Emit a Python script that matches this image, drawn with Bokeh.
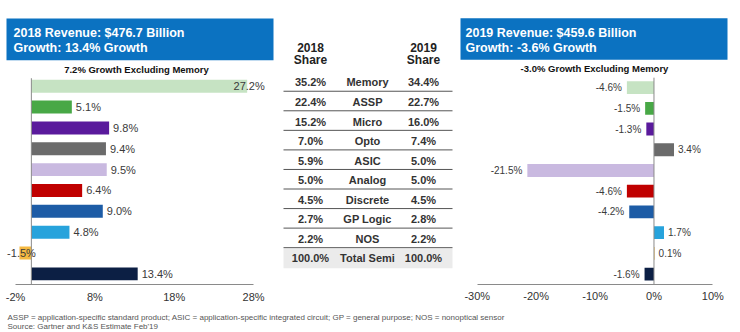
from bokeh.plotting import figure
from bokeh.models import Range1d, FixedTicker, PrintfTickFormatter, ColumnDataSource, LinearAxis
from bokeh.layouts import row, column
from bokeh.embed import file_html
from bokeh.resources import INLINE
from bokeh.core.properties import value

# ---------------- data ----------------
categories = ["Memory", "ASSP", "Micro", "Opto", "ASIC", "Analog", "Discrete", "GP Logic", "NOS", "Total Semi"]
growth_2018 = [27.2, 5.1, 9.8, 9.4, 9.5, 6.4, 9.0, 4.8, -1.5, 13.4]
growth_2019 = [-4.6, -1.5, -1.3, 3.4, -21.5, -4.6, -4.2, 1.7, 0.1, -1.6]
share_2018 = [35.2, 22.4, 15.2, 7.0, 5.9, 5.0, 4.5, 2.7, 2.2, 100.0]
share_2019 = [34.4, 22.7, 16.0, 7.4, 5.0, 5.0, 4.5, 2.8, 2.2, 100.0]
left_ticks = [-2, 8, 18, 28]
right_ticks = [-30, -20, -10, 0, 10]
left_header = ["2018 Revenue: $476.7 Billion", "Growth: 13.4% Growth"]
right_header = ["2019 Revenue: $459.6 Billion", "Growth: -3.6% Growth"]
left_subtitle = "7.2% Growth Excluding Memory"
right_subtitle = "-3.0% Growth Excluding Memory"
footnotes = ["ASSP = application-specific standard product; ASIC = application-specific integrated circuit; GP = general purpose; NOS = nonoptical sensor",
             "Source: Gartner and K&S Estimate Feb'19"]

# ---------------- style ----------------
colors = ["#c6e3c3", "#48a846", "#5a1a9c", "#6b6b6b", "#c9b9e0", "#c00000",
          "#1d5ca6", "#27a3dc", "#f5b942", "#0c1f44"]
BLUE = "#0b72c1"
FONT = "Liberation Sans"
AXIS_COLOR = "#8a8a8a"
rows = list(range(len(categories)))


def base_fig(w, h, xr, yr, px_w, px_h):
    p = figure(width=w, height=h, x_range=xr, y_range=yr, output_backend="svg",
               toolbar_location=None, min_border=0, outline_line_color=None,
               background_fill_color="white", border_fill_color="white",
               x_axis_location=None, y_axis_location=None)
    p.xgrid.visible = False
    p.ygrid.visible = False
    p.extra_x_ranges = {"px": Range1d(0, px_w)}
    p.extra_y_ranges = {"px": Range1d(px_h, 0)}
    return p


def add_axis(p, ticks, size, standoff):
    ax = LinearAxis(ticker=FixedTicker(ticks=ticks), formatter=PrintfTickFormatter(format="%d%%"))
    ax.major_tick_out = 0
    ax.major_tick_in = 0
    ax.minor_tick_out = 0
    ax.minor_tick_in = 0
    ax.axis_line_color = AXIS_COLOR
    ax.bounds = (min(ticks), max(ticks))
    ax.major_label_text_font = FONT
    ax.major_label_text_font_size = size
    ax.major_label_text_color = "#333333"
    ax.major_label_standoff = standoff
    p.add_layout(ax, "below")


def header(p, x0, x1, tx, lines, sub, subx):
    p.quad(left=[x0], right=[x1], top=[18], bottom=[60], fill_color=BLUE, line_color=None,
           x_range_name="px", y_range_name="px")
    p.text(x=[tx, tx], y=[33, 48], text=lines, text_font=value(FONT), text_font_style="bold",
           text_font_size="12.5px", text_color="white", text_baseline="middle",
           x_range_name="px", y_range_name="px")
    p.text(x=[subx], y=[69], text=[sub], text_font=value(FONT), text_font_style="bold",
           text_font_size="9.5px", text_color="#111111", text_baseline="middle", text_align="center",
           x_range_name="px", y_range_name="px")


def pct(v):
    return f"{v:.1f}%"


# ---------------- left chart ----------------
LH = 285
left = base_fig(280, 305, Range1d(-3.891, 31.40), Range1d((LH - 86) / 20.93, -86 / 20.93), 280, LH)
left.min_border_bottom = 20
header(left, 6, 273, 13, left_header, left_subtitle, 136)
src_l = ColumnDataSource(dict(row=rows, val=growth_2018, color=colors))
left.hbar(y="row", left=0, right="val", height=0.62, fill_color="color", line_color=None, source=src_l)
left.segment(x0=[0], y0=[78], x1=[0], y1=[LH], y_range_name="px", line_color=AXIS_COLOR, line_width=1)
vmax = max(growth_2018)
out_i = [i for i, v in enumerate(growth_2018) if 0 <= v < vmax]
cen_i = [i for i, v in enumerate(growth_2018) if v < 0 or v == vmax]
left.text(x=[growth_2018[i] for i in out_i], y=[i for i in out_i], text=[pct(growth_2018[i]) for i in out_i],
          x_offset=4, text_align="left", text_baseline="middle", text_font=value(FONT),
          text_font_size="11px", text_color="#3a3a3a")
left.text(x=[growth_2018[i] for i in cen_i], y=[i for i in cen_i], text=[pct(growth_2018[i]) for i in cen_i],
          x_offset=2, text_align="center", text_baseline="middle", text_font=value(FONT),
          text_font_size="11px", text_color="#3a3a3a")
add_axis(left, left_ticks, "11px", 6)

# ---------------- middle table ----------------
MH = 305
mid = base_fig(175, 305, Range1d(0, 175), Range1d((MH - 88) / 21.0, -88 / 21.0), 175, MH)
mid.quad(left=[3], right=[172], top=[len(rows) - 1.5], bottom=[len(rows) - 0.5], fill_color="#ebebeb", line_color=None)
mid.segment(x0=[3] * (len(rows) - 1), x1=[172] * (len(rows) - 1), y0=[i + 0.45 for i in rows[:-1]],
            y1=[i + 0.45 for i in rows[:-1]], line_color="#555555", line_width=1)
for xc, yr_ in ((30, "2018"), (143, "2019")):
    mid.text(x=[xc, xc], y=[51, 64], text=[yr_, "Share"], text_font=value(FONT), text_font_style="bold",
             text_font_size="12px", text_color="#222222", text_align="center", text_baseline="middle",
             x_range_name="px", y_range_name="px")
for xc, txt in ((30, [pct(v) for v in share_2018]), (87, categories), (143, [pct(v) for v in share_2019])):
    mid.text(x=[xc] * len(rows), y=rows, text=txt, text_font=value(FONT), text_font_style="bold",
             text_font_size="11px", text_color="#333333", text_align="center", text_baseline="middle")

# ---------------- right chart ----------------
RH = 287
right = base_fig(285, 305, Range1d(-33.70, 14.69), Range1d((RH - 88) / 20.94, -88 / 20.94), 285, RH)
right.min_border_bottom = 18
header(right, 5, 272, 10, right_header, right_subtitle, 139)
src_r = ColumnDataSource(dict(row=rows, val=growth_2019, color=colors))
right.hbar(y="row", left=0, right="val", height=0.62, fill_color="color", line_color=None, source=src_r)
right.segment(x0=[0], y0=[78], x1=[0], y1=[RH], y_range_name="px", line_color=AXIS_COLOR, line_width=1)
pos_i = [i for i, v in enumerate(growth_2019) if v >= 0]
neg_i = [i for i, v in enumerate(growth_2019) if v < 0]
right.text(x=[growth_2019[i] for i in pos_i], y=pos_i, text=[pct(growth_2019[i]) for i in pos_i],
           x_offset=4, text_align="left", text_baseline="middle", text_font=value(FONT),
           text_font_size="10px", text_color="#3a3a3a")
right.text(x=[growth_2019[i] for i in neg_i], y=neg_i, text=[pct(growth_2019[i]) for i in neg_i],
           x_offset=-5, text_align="right", text_baseline="middle", text_font=value(FONT),
           text_font_size="10px", text_color="#3a3a3a")
add_axis(right, right_ticks, "11px", 5)

# ---------------- footnote ----------------
foot = figure(width=740, height=27, x_range=Range1d(0, 740), y_range=Range1d(27, 0), output_backend="svg",
              toolbar_location=None, min_border=0, outline_line_color=None,
              x_axis_location=None, y_axis_location=None)
foot.xgrid.visible = False
foot.ygrid.visible = False
foot.text(x=[7, 7], y=[12, 21], text=footnotes, text_font=value(FONT), text_font_size="8px",
          text_color="#555555", text_baseline="middle")

layout = column(row(left, mid, right, spacing=0), foot, spacing=0)
open("out.html", "w").write(file_html(layout, INLINE))
